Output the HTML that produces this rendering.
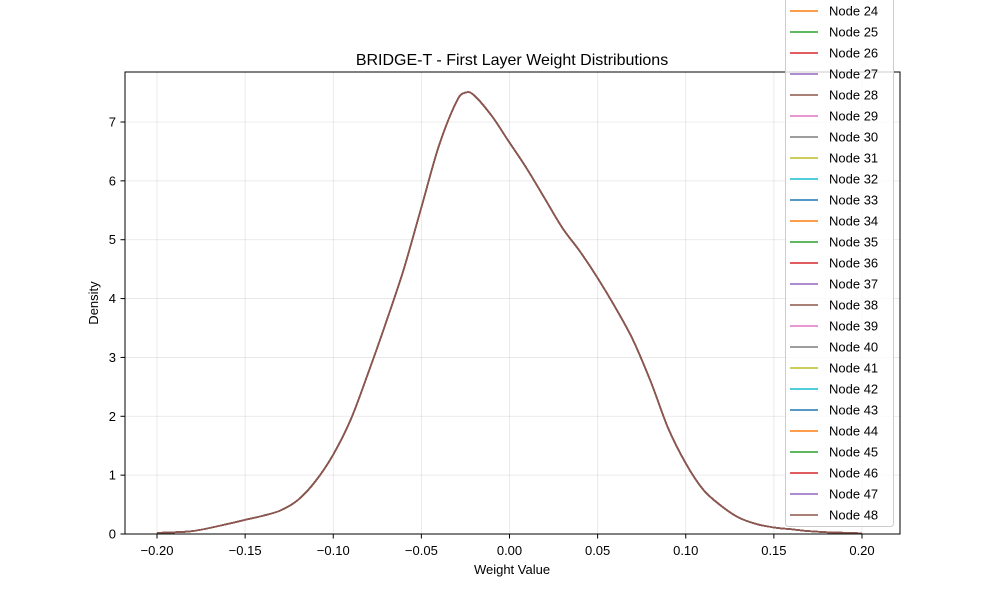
<!DOCTYPE html>
<html><head><meta charset="utf-8"><style>
body{margin:0;background:#fff;}
svg{display:block;font-family:"Liberation Sans","DejaVu Sans",sans-serif;}
</style></head><body>
<svg id="chart" width="1000" height="600">
<rect x="0" y="0" width="1000" height="600" fill="#fff"/>
<g id="grid"></g>
<g id="curves"></g>
<rect x="125" y="72" width="775" height="462" fill="none" stroke="#000" stroke-width="1"/>
<g id="axes"></g>
<text x="512" y="65" text-anchor="middle" font-size="16">BRIDGE-T - First Layer Weight Distributions</text>
<text x="512" y="574" text-anchor="middle" font-size="13">Weight Value</text>
<text x="98" y="303" text-anchor="middle" font-size="13" transform="rotate(-90 98 303)">Density</text>
<g id="legend"></g>
</svg>
<script>
const xs=[-0.20,-0.18,-0.16,-0.15,-0.14,-0.13,-0.12,-0.11,-0.10,-0.09,-0.08,-0.07,-0.06,-0.05,-0.04,-0.03,-0.025,-0.02,-0.01,0.00,0.01,0.02,0.03,0.04,0.05,0.06,0.07,0.08,0.09,0.10,0.11,0.12,0.13,0.14,0.15,0.16,0.17,0.18,0.20];
const density=[0.02,0.05,0.17,0.24,0.31,0.40,0.58,0.9,1.35,1.95,2.75,3.6,4.5,5.55,6.6,7.35,7.5,7.45,7.1,6.65,6.2,5.7,5.2,4.8,4.35,3.85,3.3,2.6,1.8,1.2,0.75,0.48,0.28,0.17,0.11,0.08,0.05,0.03,0.01];
const xTicks=[-0.20,-0.15,-0.10,-0.05,0.00,0.05,0.10,0.15,0.20];
const xTickLabels=["−0.20","−0.15","−0.10","−0.05","0.00","0.05","0.10","0.15","0.20"];
const yTicks=[0,1,2,3,4,5,6,7];
const nodes=[];for(let n=24;n<=48;n++)nodes.push(n);
const palette=["#1f77b4","#ff7f0e","#2ca02c","#d62728","#9467bd","#8c564b","#e377c2","#7f7f7f","#bcbd22","#17becf"];
const NS="http://www.w3.org/2000/svg";
const X=v=>509.5+v*(862-157)/0.4;
const Y=v=>534-v*(534-122)/7;
function mk(t,a,p){const e=document.createElementNS(NS,t);for(const k in a)e.setAttribute(k,a[k]);p.appendChild(e);return e;}
const grid=document.getElementById('grid'),axes=document.getElementById('axes');
xTicks.forEach((t,i)=>{const x=X(t);
 const g=mk('line',{x1:x,x2:x,y1:72,y2:534,stroke:'#000','stroke-opacity':0.1,'stroke-width':0.8},grid);
 
 const tk=mk('line',{x1:x,x2:x,y1:534,y2:538.5,stroke:'#000'},axes);
 
 const tx=mk('text',{x:x,y:555,'text-anchor':'middle','font-size':13},axes);tx.textContent=xTickLabels[i];
 });
yTicks.forEach(t=>{const y=Y(t);
 const g=mk('line',{x1:125,x2:900,y1:y,y2:y,stroke:'#000','stroke-opacity':0.1,'stroke-width':0.8},grid);
 
 const tk=mk('line',{x1:120.5,x2:125,y1:y,y2:y,stroke:'#000'},axes);
 
 const tx=mk('text',{x:116,y:y+4.5,'text-anchor':'end','font-size':13},axes);tx.textContent=t;
 });
const curves=document.getElementById('curves');
const pts=xs.map((v,i)=>[X(v),Y(density[i])]);
let d='M'+pts[0][0].toFixed(1)+','+pts[0][1].toFixed(1);
for(let i=0;i<pts.length-1;i++){
 const p0=pts[Math.max(0,i-1)],p1=pts[i],p2=pts[i+1],p3=pts[Math.min(pts.length-1,i+2)];
 const c1=[p1[0]+(p2[0]-p0[0])/6,p1[1]+(p2[1]-p0[1])/6];
 const c2=[p2[0]-(p3[0]-p1[0])/6,p2[1]-(p3[1]-p1[1])/6];
 d+=' C'+c1[0].toFixed(1)+','+c1[1].toFixed(1)+' '+c2[0].toFixed(1)+','+c2[1].toFixed(1)+' '+p2[0].toFixed(1)+','+p2[1].toFixed(1);
}
nodes.forEach(n=>{const p=mk('path',{d:d,fill:'none',stroke:palette[(n-23)%10],'stroke-width':1.5,'stroke-linejoin':'round'},curves);
 });
const lg=document.getElementById('legend');
const box=mk('rect',{x:785.5,y:-20,width:108,height:546.5,fill:'#fff','fill-opacity':0.8,stroke:'#ccc',rx:3},lg);

nodes.forEach((n,i)=>{const y=11+21*i;
 const g=mk('g',{},lg);
 
 mk('line',{x1:790,x2:818,y1:y,y2:y,stroke:palette[(n-23)%10],'stroke-width':1.5},g);
 const t=mk('text',{x:829,y:y+4.5,'font-size':13},g);t.textContent='Node '+n;});
</script>
</body></html>
